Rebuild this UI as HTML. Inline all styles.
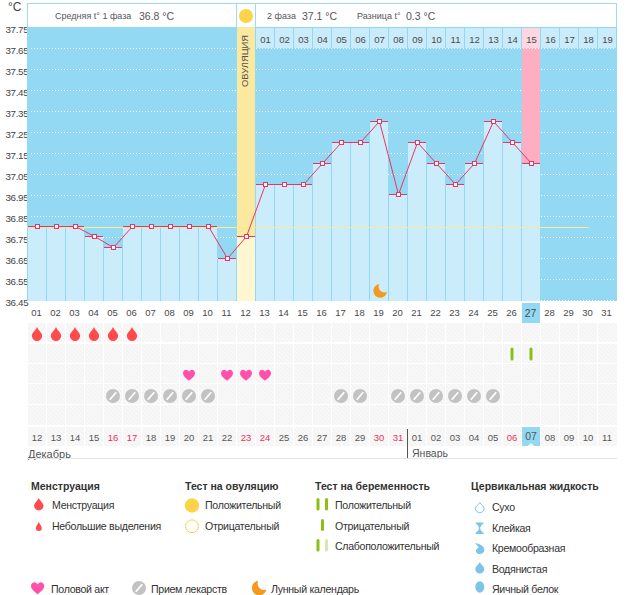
<!DOCTYPE html><html><head><meta charset="utf-8"><style>
*{margin:0;padding:0;box-sizing:border-box}
html,body{width:626px;height:595px;background:#fff;overflow:hidden}
body{position:relative;font-family:"Liberation Sans",sans-serif;color:#444}
.a{position:absolute}
.yl{position:absolute;left:0;width:28.3px;text-align:right;font-size:9.8px;line-height:10px;color:#444;letter-spacing:-0.35px}
.dl{position:absolute;font-size:9.5px;line-height:10px;text-align:center;color:#4a4a4a}
.lg{position:absolute;font-size:10.6px;line-height:12px;color:#333;white-space:nowrap;letter-spacing:-0.3px}
.lh{position:absolute;font-size:10.5px;line-height:12px;font-weight:bold;color:#333;white-space:nowrap}
.ht{position:absolute;white-space:nowrap;color:#555}
</style></head><body>

<div class="a" style="left:8px;top:0.5px;font-size:12px;line-height:12px;color:#444">°C</div>
<div class="yl" style="top:24.5px">37.75</div>
<div class="yl" style="top:45.5px">37.65</div>
<div class="yl" style="top:66.5px">37.55</div>
<div class="yl" style="top:87.5px">37.45</div>
<div class="yl" style="top:108.5px">37.35</div>
<div class="yl" style="top:129.5px">37.25</div>
<div class="yl" style="top:150.5px">37.15</div>
<div class="yl" style="top:171.5px">37.05</div>
<div class="yl" style="top:192.5px">36.95</div>
<div class="yl" style="top:213.5px">36.85</div>
<div class="yl" style="top:234.5px">36.75</div>
<div class="yl" style="top:255.5px">36.65</div>
<div class="yl" style="top:276.5px">36.55</div>
<div class="yl" style="top:297.5px">36.45</div>
<svg class="a" style="left:0;top:0" width="626" height="595" shape-rendering="crispEdges">
<rect x="27" y="27" width="590" height="274" fill="#93d9f3"/>
<line x1="31" y1="48.5" x2="615" y2="48.5" stroke="#fff" stroke-width="1" stroke-dasharray="1 2"/>
<line x1="31" y1="69.5" x2="615" y2="69.5" stroke="#fff" stroke-width="1" stroke-dasharray="1 2"/>
<line x1="31" y1="90.5" x2="615" y2="90.5" stroke="#fff" stroke-width="1" stroke-dasharray="1 2"/>
<line x1="31" y1="111.5" x2="615" y2="111.5" stroke="#fff" stroke-width="1" stroke-dasharray="1 2"/>
<line x1="31" y1="132.5" x2="615" y2="132.5" stroke="#fff" stroke-width="1" stroke-dasharray="1 2"/>
<line x1="31" y1="153.5" x2="615" y2="153.5" stroke="#fff" stroke-width="1" stroke-dasharray="1 2"/>
<line x1="31" y1="174.5" x2="615" y2="174.5" stroke="#fff" stroke-width="1" stroke-dasharray="1 2"/>
<line x1="31" y1="195.5" x2="615" y2="195.5" stroke="#fff" stroke-width="1" stroke-dasharray="1 2"/>
<line x1="31" y1="216.5" x2="615" y2="216.5" stroke="#fff" stroke-width="1" stroke-dasharray="1 2"/>
<line x1="31" y1="237.5" x2="615" y2="237.5" stroke="#fff" stroke-width="1" stroke-dasharray="1 2"/>
<line x1="31" y1="258.5" x2="615" y2="258.5" stroke="#fff" stroke-width="1" stroke-dasharray="1 2"/>
<line x1="31" y1="279.5" x2="615" y2="279.5" stroke="#fff" stroke-width="1" stroke-dasharray="1 2"/>
<line x1="31" y1="300.5" x2="615" y2="300.5" stroke="#fff" stroke-width="1" stroke-dasharray="1 2"/>
<rect x="237" y="27" width="18" height="274" fill="#fce9a0"/>
<rect x="522" y="48" width="18" height="253" fill="#fdaec3"/>
<rect x="28" y="227" width="18" height="74" fill="#cbecfa"/>
<rect x="27" y="227" width="1" height="74" fill="#93d8f2"/>
<rect x="47" y="227" width="18" height="74" fill="#cbecfa"/>
<rect x="46" y="227" width="1" height="74" fill="#93d8f2"/>
<rect x="66" y="227" width="18" height="74" fill="#cbecfa"/>
<rect x="65" y="227" width="1" height="74" fill="#93d8f2"/>
<rect x="85" y="237" width="18" height="64" fill="#cbecfa"/>
<rect x="84" y="237" width="1" height="64" fill="#93d8f2"/>
<rect x="104" y="248" width="18" height="53" fill="#cbecfa"/>
<rect x="103" y="248" width="1" height="53" fill="#93d8f2"/>
<rect x="123" y="227" width="18" height="74" fill="#cbecfa"/>
<rect x="122" y="227" width="1" height="74" fill="#93d8f2"/>
<rect x="142" y="227" width="18" height="74" fill="#cbecfa"/>
<rect x="141" y="227" width="1" height="74" fill="#93d8f2"/>
<rect x="161" y="227" width="18" height="74" fill="#cbecfa"/>
<rect x="160" y="227" width="1" height="74" fill="#93d8f2"/>
<rect x="180" y="227" width="18" height="74" fill="#cbecfa"/>
<rect x="179" y="227" width="1" height="74" fill="#93d8f2"/>
<rect x="199" y="227" width="18" height="74" fill="#cbecfa"/>
<rect x="198" y="227" width="1" height="74" fill="#93d8f2"/>
<rect x="218" y="259" width="18" height="42" fill="#cbecfa"/>
<rect x="217" y="259" width="1" height="42" fill="#93d8f2"/>
<rect x="237" y="237" width="18" height="64" fill="#fff6d2"/>
<rect x="256" y="185" width="18" height="116" fill="#cbecfa"/>
<rect x="275" y="185" width="18" height="116" fill="#cbecfa"/>
<rect x="274" y="185" width="1" height="116" fill="#93d8f2"/>
<rect x="294" y="185" width="18" height="116" fill="#cbecfa"/>
<rect x="293" y="185" width="1" height="116" fill="#93d8f2"/>
<rect x="313" y="164" width="18" height="137" fill="#cbecfa"/>
<rect x="312" y="164" width="1" height="137" fill="#93d8f2"/>
<rect x="332" y="143" width="18" height="158" fill="#cbecfa"/>
<rect x="331" y="143" width="1" height="158" fill="#93d8f2"/>
<rect x="351" y="143" width="18" height="158" fill="#cbecfa"/>
<rect x="350" y="143" width="1" height="158" fill="#93d8f2"/>
<rect x="370" y="122" width="18" height="179" fill="#cbecfa"/>
<rect x="369" y="122" width="1" height="179" fill="#93d8f2"/>
<rect x="389" y="195" width="18" height="106" fill="#cbecfa"/>
<rect x="388" y="195" width="1" height="106" fill="#93d8f2"/>
<rect x="408" y="143" width="18" height="158" fill="#cbecfa"/>
<rect x="407" y="143" width="1" height="158" fill="#93d8f2"/>
<rect x="427" y="164" width="18" height="137" fill="#cbecfa"/>
<rect x="426" y="164" width="1" height="137" fill="#93d8f2"/>
<rect x="446" y="185" width="18" height="116" fill="#cbecfa"/>
<rect x="445" y="185" width="1" height="116" fill="#93d8f2"/>
<rect x="465" y="164" width="18" height="137" fill="#cbecfa"/>
<rect x="464" y="164" width="1" height="137" fill="#93d8f2"/>
<rect x="484" y="122" width="18" height="179" fill="#cbecfa"/>
<rect x="483" y="122" width="1" height="179" fill="#93d8f2"/>
<rect x="503" y="143" width="18" height="158" fill="#cbecfa"/>
<rect x="502" y="143" width="1" height="158" fill="#93d8f2"/>
<rect x="522" y="164" width="18" height="137" fill="#cbecfa"/>
<rect x="521" y="164" width="1" height="137" fill="#93d8f2"/>
<rect x="255" y="27" width="362" height="21" fill="#93d8f2"/>
<rect x="256" y="28" width="18" height="20" fill="#c9ebfa"/>
<rect x="275" y="28" width="18" height="20" fill="#c9ebfa"/>
<rect x="294" y="28" width="18" height="20" fill="#c9ebfa"/>
<rect x="313" y="28" width="18" height="20" fill="#c9ebfa"/>
<rect x="332" y="28" width="18" height="20" fill="#c9ebfa"/>
<rect x="351" y="28" width="18" height="20" fill="#c9ebfa"/>
<rect x="370" y="28" width="18" height="20" fill="#c9ebfa"/>
<rect x="389" y="28" width="18" height="20" fill="#c9ebfa"/>
<rect x="408" y="28" width="18" height="20" fill="#c9ebfa"/>
<rect x="427" y="28" width="18" height="20" fill="#c9ebfa"/>
<rect x="446" y="28" width="18" height="20" fill="#c9ebfa"/>
<rect x="465" y="28" width="18" height="20" fill="#c9ebfa"/>
<rect x="484" y="28" width="18" height="20" fill="#c9ebfa"/>
<rect x="503" y="28" width="18" height="20" fill="#c9ebfa"/>
<rect x="522" y="28" width="18" height="20" fill="#fcd6e0"/>
<rect x="541" y="28" width="18" height="20" fill="#c9ebfa"/>
<rect x="560" y="28" width="18" height="20" fill="#c9ebfa"/>
<rect x="579" y="28" width="18" height="20" fill="#c9ebfa"/>
<rect x="598" y="28" width="18" height="20" fill="#c9ebfa"/>
<line x1="256" y1="48.5" x2="615" y2="48.5" stroke="#fff" stroke-width="1" stroke-dasharray="1 2" stroke-dashoffset="0"/>
<rect x="27" y="227" width="562" height="1" fill="#f6ec98"/>
<rect x="28" y="226" width="18" height="1" fill="#ea3462"/>
<rect x="47" y="226" width="18" height="1" fill="#ea3462"/>
<rect x="66" y="226" width="18" height="1" fill="#ea3462"/>
<rect x="85" y="236" width="18" height="1" fill="#ea3462"/>
<rect x="104" y="247" width="18" height="1" fill="#ea3462"/>
<rect x="123" y="226" width="18" height="1" fill="#ea3462"/>
<rect x="142" y="226" width="18" height="1" fill="#ea3462"/>
<rect x="161" y="226" width="18" height="1" fill="#ea3462"/>
<rect x="180" y="226" width="18" height="1" fill="#ea3462"/>
<rect x="199" y="226" width="18" height="1" fill="#ea3462"/>
<rect x="218" y="258" width="18" height="1" fill="#ea3462"/>
<rect x="237" y="236" width="18" height="1" fill="#ea3462"/>
<rect x="256" y="184" width="18" height="1" fill="#ea3462"/>
<rect x="275" y="184" width="18" height="1" fill="#ea3462"/>
<rect x="294" y="184" width="18" height="1" fill="#ea3462"/>
<rect x="313" y="163" width="18" height="1" fill="#ea3462"/>
<rect x="332" y="142" width="18" height="1" fill="#ea3462"/>
<rect x="351" y="142" width="18" height="1" fill="#ea3462"/>
<rect x="370" y="121" width="18" height="1" fill="#ea3462"/>
<rect x="389" y="194" width="18" height="1" fill="#ea3462"/>
<rect x="408" y="142" width="18" height="1" fill="#ea3462"/>
<rect x="427" y="163" width="18" height="1" fill="#ea3462"/>
<rect x="446" y="184" width="18" height="1" fill="#ea3462"/>
<rect x="465" y="163" width="18" height="1" fill="#ea3462"/>
<rect x="484" y="121" width="18" height="1" fill="#ea3462"/>
<rect x="503" y="142" width="18" height="1" fill="#ea3462"/>
<rect x="522" y="163" width="18" height="1" fill="#ea3462"/>
</svg>
<svg class="a" style="left:0;top:0" width="626" height="595">
<polyline fill="none" stroke="#ea3462" stroke-width="1" points="37.5,226.5 56.5,226.5 75.5,226.5 94.5,236.5 113.5,247.5 132.5,226.5 151.5,226.5 170.5,226.5 189.5,226.5 208.5,226.5 227.5,258.5 246.5,236.5 265.5,184.5 284.5,184.5 303.5,184.5 322.5,163.5 341.5,142.5 360.5,142.5 379.5,121.5 398.5,194.5 417.5,142.5 436.5,163.5 455.5,184.5 474.5,163.5 493.5,121.5 512.5,142.5 531.5,163.5"/>
<rect x="35.5" y="224.5" width="4" height="4" fill="#fff" stroke="#ea3462" stroke-width="1"/>
<rect x="54.5" y="224.5" width="4" height="4" fill="#fff" stroke="#ea3462" stroke-width="1"/>
<rect x="73.5" y="224.5" width="4" height="4" fill="#fff" stroke="#ea3462" stroke-width="1"/>
<rect x="92.5" y="234.5" width="4" height="4" fill="#fff" stroke="#ea3462" stroke-width="1"/>
<rect x="111.5" y="245.5" width="4" height="4" fill="#fff" stroke="#ea3462" stroke-width="1"/>
<rect x="130.5" y="224.5" width="4" height="4" fill="#fff" stroke="#ea3462" stroke-width="1"/>
<rect x="149.5" y="224.5" width="4" height="4" fill="#fff" stroke="#ea3462" stroke-width="1"/>
<rect x="168.5" y="224.5" width="4" height="4" fill="#fff" stroke="#ea3462" stroke-width="1"/>
<rect x="187.5" y="224.5" width="4" height="4" fill="#fff" stroke="#ea3462" stroke-width="1"/>
<rect x="206.5" y="224.5" width="4" height="4" fill="#fff" stroke="#ea3462" stroke-width="1"/>
<rect x="225.5" y="256.5" width="4" height="4" fill="#fff" stroke="#ea3462" stroke-width="1"/>
<rect x="244.5" y="234.5" width="4" height="4" fill="#fff" stroke="#ea3462" stroke-width="1"/>
<rect x="263.5" y="182.5" width="4" height="4" fill="#fff" stroke="#ea3462" stroke-width="1"/>
<rect x="282.5" y="182.5" width="4" height="4" fill="#fff" stroke="#ea3462" stroke-width="1"/>
<rect x="301.5" y="182.5" width="4" height="4" fill="#fff" stroke="#ea3462" stroke-width="1"/>
<rect x="320.5" y="161.5" width="4" height="4" fill="#fff" stroke="#ea3462" stroke-width="1"/>
<rect x="339.5" y="140.5" width="4" height="4" fill="#fff" stroke="#ea3462" stroke-width="1"/>
<rect x="358.5" y="140.5" width="4" height="4" fill="#fff" stroke="#ea3462" stroke-width="1"/>
<rect x="377.5" y="119.5" width="4" height="4" fill="#fff" stroke="#ea3462" stroke-width="1"/>
<rect x="396.5" y="192.5" width="4" height="4" fill="#fff" stroke="#ea3462" stroke-width="1"/>
<rect x="415.5" y="140.5" width="4" height="4" fill="#fff" stroke="#ea3462" stroke-width="1"/>
<rect x="434.5" y="161.5" width="4" height="4" fill="#fff" stroke="#ea3462" stroke-width="1"/>
<rect x="453.5" y="182.5" width="4" height="4" fill="#fff" stroke="#ea3462" stroke-width="1"/>
<rect x="472.5" y="161.5" width="4" height="4" fill="#fff" stroke="#ea3462" stroke-width="1"/>
<rect x="491.5" y="119.5" width="4" height="4" fill="#fff" stroke="#ea3462" stroke-width="1"/>
<rect x="510.5" y="140.5" width="4" height="4" fill="#fff" stroke="#ea3462" stroke-width="1"/>
<rect x="529.5" y="161.5" width="4" height="4" fill="#fff" stroke="#ea3462" stroke-width="1"/>
<defs><clipPath id="mc"><rect x="370" y="270" width="18" height="31"/></clipPath></defs><g clip-path="url(#mc)"><circle cx="380.2" cy="290.8" r="6.9" fill="#f39a1e"/><circle cx="384.6" cy="286.6" r="6" fill="#cbecfa"/></g>
</svg>
<div class="a" style="left:27px;top:3px;width:590px;height:24px;border:1px solid #9edcf3;border-bottom:none;background:#fff"></div>
<div class="a" style="left:236px;top:3px;width:1px;height:24px;background:#9edcf3"></div>
<div class="a" style="left:255px;top:3px;width:1px;height:24px;background:#9edcf3"></div>
<div class="a" style="left:239px;top:9px;width:14px;height:14px;border-radius:50%;background:#fdd34a"></div>
<div class="ht" style="left:55px;top:11px;font-size:9px;line-height:10px">Средняя t° 1 фаза</div>
<div class="ht" style="left:139px;top:11px;font-size:10.5px;line-height:11px">36.8 °C</div>
<div class="ht" style="left:267px;top:11px;font-size:9px;line-height:10px">2 фаза</div>
<div class="ht" style="left:302px;top:11px;font-size:10.5px;line-height:11px">37.1 °C</div>
<div class="ht" style="left:357px;top:11px;font-size:9px;line-height:10px">Разница t°</div>
<div class="ht" style="left:406px;top:11px;font-size:10.5px;line-height:11px">0.3 °C</div>
<div class="a" style="left:245px;top:61px;width:0;height:0"><div style="position:absolute;left:0;top:0;font-size:9.8px;line-height:10px;white-space:nowrap;color:#555;transform:translate(-50%,-50%) rotate(-90deg) scaleX(0.955)">ОВУЛЯЦИЯ</div></div>
<div class="dl" style="left:256px;top:35px;width:19px">01</div>
<div class="dl" style="left:275px;top:35px;width:19px">02</div>
<div class="dl" style="left:294px;top:35px;width:19px">03</div>
<div class="dl" style="left:313px;top:35px;width:19px">04</div>
<div class="dl" style="left:332px;top:35px;width:19px">05</div>
<div class="dl" style="left:351px;top:35px;width:19px">06</div>
<div class="dl" style="left:370px;top:35px;width:19px">07</div>
<div class="dl" style="left:389px;top:35px;width:19px">08</div>
<div class="dl" style="left:408px;top:35px;width:19px">09</div>
<div class="dl" style="left:427px;top:35px;width:19px">10</div>
<div class="dl" style="left:446px;top:35px;width:19px">11</div>
<div class="dl" style="left:465px;top:35px;width:19px">12</div>
<div class="dl" style="left:484px;top:35px;width:19px">13</div>
<div class="dl" style="left:503px;top:35px;width:19px">14</div>
<div class="dl" style="left:522px;top:35px;width:19px">15</div>
<div class="dl" style="left:541px;top:35px;width:19px">16</div>
<div class="dl" style="left:560px;top:35px;width:19px">17</div>
<div class="dl" style="left:579px;top:35px;width:19px">18</div>
<div class="dl" style="left:598px;top:35px;width:19px">19</div>
<div class="a" style="left:522px;top:303px;width:18px;height:20px;background:#93d9f3"></div>
<div class="dl" style="left:27px;top:308px;width:19px">01</div>
<div class="dl" style="left:46px;top:308px;width:19px">02</div>
<div class="dl" style="left:65px;top:308px;width:19px">03</div>
<div class="dl" style="left:84px;top:308px;width:19px">04</div>
<div class="dl" style="left:103px;top:308px;width:19px">05</div>
<div class="dl" style="left:122px;top:308px;width:19px">06</div>
<div class="dl" style="left:141px;top:308px;width:19px">07</div>
<div class="dl" style="left:160px;top:308px;width:19px">08</div>
<div class="dl" style="left:179px;top:308px;width:19px">09</div>
<div class="dl" style="left:198px;top:308px;width:19px">10</div>
<div class="dl" style="left:217px;top:308px;width:19px">11</div>
<div class="dl" style="left:236px;top:308px;width:19px">12</div>
<div class="dl" style="left:255px;top:308px;width:19px">13</div>
<div class="dl" style="left:274px;top:308px;width:19px">14</div>
<div class="dl" style="left:293px;top:308px;width:19px">15</div>
<div class="dl" style="left:312px;top:308px;width:19px">16</div>
<div class="dl" style="left:331px;top:308px;width:19px">17</div>
<div class="dl" style="left:350px;top:308px;width:19px">18</div>
<div class="dl" style="left:369px;top:308px;width:19px">19</div>
<div class="dl" style="left:388px;top:308px;width:19px">20</div>
<div class="dl" style="left:407px;top:308px;width:19px">21</div>
<div class="dl" style="left:426px;top:308px;width:19px">22</div>
<div class="dl" style="left:445px;top:308px;width:19px">23</div>
<div class="dl" style="left:464px;top:308px;width:19px">24</div>
<div class="dl" style="left:483px;top:308px;width:19px">25</div>
<div class="dl" style="left:502px;top:308px;width:19px">26</div>
<div class="dl" style="left:521px;font-size:10.5px;top:307.5px;width:19px">27</div>
<div class="dl" style="left:540px;top:308px;width:19px">28</div>
<div class="dl" style="left:559px;top:308px;width:19px">29</div>
<div class="dl" style="left:578px;top:308px;width:19px">30</div>
<div class="dl" style="left:597px;top:308px;width:19px">31</div>
<svg class="a" style="left:0;top:0" width="626" height="595">
<defs><pattern id="hp" width="3" height="3" patternUnits="userSpaceOnUse" patternTransform="rotate(-45)"><rect width="3" height="3" fill="#fafafa"/><rect width="1.5" height="3" fill="#f3f3f3"/></pattern></defs>
<rect x="28" y="323" width="18" height="19" fill="url(#hp)"/>
<rect x="47" y="323" width="18" height="19" fill="url(#hp)"/>
<rect x="66" y="323" width="18" height="19" fill="url(#hp)"/>
<rect x="85" y="323" width="18" height="19" fill="url(#hp)"/>
<rect x="104" y="323" width="18" height="19" fill="url(#hp)"/>
<rect x="123" y="323" width="18" height="19" fill="url(#hp)"/>
<rect x="142" y="323" width="18" height="19" fill="url(#hp)"/>
<rect x="161" y="323" width="18" height="19" fill="url(#hp)"/>
<rect x="180" y="323" width="18" height="19" fill="url(#hp)"/>
<rect x="199" y="323" width="18" height="19" fill="url(#hp)"/>
<rect x="218" y="323" width="18" height="19" fill="url(#hp)"/>
<rect x="237" y="323" width="18" height="19" fill="url(#hp)"/>
<rect x="256" y="323" width="18" height="19" fill="url(#hp)"/>
<rect x="275" y="323" width="18" height="19" fill="url(#hp)"/>
<rect x="294" y="323" width="18" height="19" fill="url(#hp)"/>
<rect x="313" y="323" width="18" height="19" fill="url(#hp)"/>
<rect x="332" y="323" width="18" height="19" fill="url(#hp)"/>
<rect x="351" y="323" width="18" height="19" fill="url(#hp)"/>
<rect x="370" y="323" width="18" height="19" fill="url(#hp)"/>
<rect x="389" y="323" width="18" height="19" fill="url(#hp)"/>
<rect x="408" y="323" width="18" height="19" fill="url(#hp)"/>
<rect x="427" y="323" width="18" height="19" fill="url(#hp)"/>
<rect x="446" y="323" width="18" height="19" fill="url(#hp)"/>
<rect x="465" y="323" width="18" height="19" fill="url(#hp)"/>
<rect x="484" y="323" width="18" height="19" fill="url(#hp)"/>
<rect x="503" y="323" width="18" height="19" fill="url(#hp)"/>
<rect x="522" y="323" width="18" height="19" fill="url(#hp)"/>
<rect x="541" y="323" width="18" height="19" fill="url(#hp)"/>
<rect x="560" y="323" width="18" height="19" fill="url(#hp)"/>
<rect x="579" y="323" width="18" height="19" fill="url(#hp)"/>
<rect x="598" y="323" width="19" height="19" fill="url(#hp)"/>
<rect x="28" y="344" width="18" height="19" fill="url(#hp)"/>
<rect x="47" y="344" width="18" height="19" fill="url(#hp)"/>
<rect x="66" y="344" width="18" height="19" fill="url(#hp)"/>
<rect x="85" y="344" width="18" height="19" fill="url(#hp)"/>
<rect x="104" y="344" width="18" height="19" fill="url(#hp)"/>
<rect x="123" y="344" width="18" height="19" fill="url(#hp)"/>
<rect x="142" y="344" width="18" height="19" fill="url(#hp)"/>
<rect x="161" y="344" width="18" height="19" fill="url(#hp)"/>
<rect x="180" y="344" width="18" height="19" fill="url(#hp)"/>
<rect x="199" y="344" width="18" height="19" fill="url(#hp)"/>
<rect x="218" y="344" width="18" height="19" fill="url(#hp)"/>
<rect x="237" y="344" width="18" height="19" fill="url(#hp)"/>
<rect x="256" y="344" width="18" height="19" fill="url(#hp)"/>
<rect x="275" y="344" width="18" height="19" fill="url(#hp)"/>
<rect x="294" y="344" width="18" height="19" fill="url(#hp)"/>
<rect x="313" y="344" width="18" height="19" fill="url(#hp)"/>
<rect x="332" y="344" width="18" height="19" fill="url(#hp)"/>
<rect x="351" y="344" width="18" height="19" fill="url(#hp)"/>
<rect x="370" y="344" width="18" height="19" fill="url(#hp)"/>
<rect x="389" y="344" width="18" height="19" fill="url(#hp)"/>
<rect x="408" y="344" width="18" height="19" fill="url(#hp)"/>
<rect x="427" y="344" width="18" height="19" fill="url(#hp)"/>
<rect x="446" y="344" width="18" height="19" fill="url(#hp)"/>
<rect x="465" y="344" width="18" height="19" fill="url(#hp)"/>
<rect x="484" y="344" width="18" height="19" fill="url(#hp)"/>
<rect x="503" y="344" width="18" height="19" fill="url(#hp)"/>
<rect x="522" y="344" width="18" height="19" fill="url(#hp)"/>
<rect x="541" y="344" width="18" height="19" fill="url(#hp)"/>
<rect x="560" y="344" width="18" height="19" fill="url(#hp)"/>
<rect x="579" y="344" width="18" height="19" fill="url(#hp)"/>
<rect x="598" y="344" width="19" height="19" fill="url(#hp)"/>
<rect x="28" y="364" width="18" height="19" fill="url(#hp)"/>
<rect x="47" y="364" width="18" height="19" fill="url(#hp)"/>
<rect x="66" y="364" width="18" height="19" fill="url(#hp)"/>
<rect x="85" y="364" width="18" height="19" fill="url(#hp)"/>
<rect x="104" y="364" width="18" height="19" fill="url(#hp)"/>
<rect x="123" y="364" width="18" height="19" fill="url(#hp)"/>
<rect x="142" y="364" width="18" height="19" fill="url(#hp)"/>
<rect x="161" y="364" width="18" height="19" fill="url(#hp)"/>
<rect x="180" y="364" width="18" height="19" fill="url(#hp)"/>
<rect x="199" y="364" width="18" height="19" fill="url(#hp)"/>
<rect x="218" y="364" width="18" height="19" fill="url(#hp)"/>
<rect x="237" y="364" width="18" height="19" fill="url(#hp)"/>
<rect x="256" y="364" width="18" height="19" fill="url(#hp)"/>
<rect x="275" y="364" width="18" height="19" fill="url(#hp)"/>
<rect x="294" y="364" width="18" height="19" fill="url(#hp)"/>
<rect x="313" y="364" width="18" height="19" fill="url(#hp)"/>
<rect x="332" y="364" width="18" height="19" fill="url(#hp)"/>
<rect x="351" y="364" width="18" height="19" fill="url(#hp)"/>
<rect x="370" y="364" width="18" height="19" fill="url(#hp)"/>
<rect x="389" y="364" width="18" height="19" fill="url(#hp)"/>
<rect x="408" y="364" width="18" height="19" fill="url(#hp)"/>
<rect x="427" y="364" width="18" height="19" fill="url(#hp)"/>
<rect x="446" y="364" width="18" height="19" fill="url(#hp)"/>
<rect x="465" y="364" width="18" height="19" fill="url(#hp)"/>
<rect x="484" y="364" width="18" height="19" fill="url(#hp)"/>
<rect x="503" y="364" width="18" height="19" fill="url(#hp)"/>
<rect x="522" y="364" width="18" height="19" fill="url(#hp)"/>
<rect x="541" y="364" width="18" height="19" fill="url(#hp)"/>
<rect x="560" y="364" width="18" height="19" fill="url(#hp)"/>
<rect x="579" y="364" width="18" height="19" fill="url(#hp)"/>
<rect x="598" y="364" width="19" height="19" fill="url(#hp)"/>
<rect x="28" y="384" width="18" height="20" fill="url(#hp)"/>
<rect x="47" y="384" width="18" height="20" fill="url(#hp)"/>
<rect x="66" y="384" width="18" height="20" fill="url(#hp)"/>
<rect x="85" y="384" width="18" height="20" fill="url(#hp)"/>
<rect x="104" y="384" width="18" height="20" fill="url(#hp)"/>
<rect x="123" y="384" width="18" height="20" fill="url(#hp)"/>
<rect x="142" y="384" width="18" height="20" fill="url(#hp)"/>
<rect x="161" y="384" width="18" height="20" fill="url(#hp)"/>
<rect x="180" y="384" width="18" height="20" fill="url(#hp)"/>
<rect x="199" y="384" width="18" height="20" fill="url(#hp)"/>
<rect x="218" y="384" width="18" height="20" fill="url(#hp)"/>
<rect x="237" y="384" width="18" height="20" fill="url(#hp)"/>
<rect x="256" y="384" width="18" height="20" fill="url(#hp)"/>
<rect x="275" y="384" width="18" height="20" fill="url(#hp)"/>
<rect x="294" y="384" width="18" height="20" fill="url(#hp)"/>
<rect x="313" y="384" width="18" height="20" fill="url(#hp)"/>
<rect x="332" y="384" width="18" height="20" fill="url(#hp)"/>
<rect x="351" y="384" width="18" height="20" fill="url(#hp)"/>
<rect x="370" y="384" width="18" height="20" fill="url(#hp)"/>
<rect x="389" y="384" width="18" height="20" fill="url(#hp)"/>
<rect x="408" y="384" width="18" height="20" fill="url(#hp)"/>
<rect x="427" y="384" width="18" height="20" fill="url(#hp)"/>
<rect x="446" y="384" width="18" height="20" fill="url(#hp)"/>
<rect x="465" y="384" width="18" height="20" fill="url(#hp)"/>
<rect x="484" y="384" width="18" height="20" fill="url(#hp)"/>
<rect x="503" y="384" width="18" height="20" fill="url(#hp)"/>
<rect x="522" y="384" width="18" height="20" fill="url(#hp)"/>
<rect x="541" y="384" width="18" height="20" fill="url(#hp)"/>
<rect x="560" y="384" width="18" height="20" fill="url(#hp)"/>
<rect x="579" y="384" width="18" height="20" fill="url(#hp)"/>
<rect x="598" y="384" width="19" height="20" fill="url(#hp)"/>
<rect x="28" y="405" width="18" height="20" fill="url(#hp)"/>
<rect x="47" y="405" width="18" height="20" fill="url(#hp)"/>
<rect x="66" y="405" width="18" height="20" fill="url(#hp)"/>
<rect x="85" y="405" width="18" height="20" fill="url(#hp)"/>
<rect x="104" y="405" width="18" height="20" fill="url(#hp)"/>
<rect x="123" y="405" width="18" height="20" fill="url(#hp)"/>
<rect x="142" y="405" width="18" height="20" fill="url(#hp)"/>
<rect x="161" y="405" width="18" height="20" fill="url(#hp)"/>
<rect x="180" y="405" width="18" height="20" fill="url(#hp)"/>
<rect x="199" y="405" width="18" height="20" fill="url(#hp)"/>
<rect x="218" y="405" width="18" height="20" fill="url(#hp)"/>
<rect x="237" y="405" width="18" height="20" fill="url(#hp)"/>
<rect x="256" y="405" width="18" height="20" fill="url(#hp)"/>
<rect x="275" y="405" width="18" height="20" fill="url(#hp)"/>
<rect x="294" y="405" width="18" height="20" fill="url(#hp)"/>
<rect x="313" y="405" width="18" height="20" fill="url(#hp)"/>
<rect x="332" y="405" width="18" height="20" fill="url(#hp)"/>
<rect x="351" y="405" width="18" height="20" fill="url(#hp)"/>
<rect x="370" y="405" width="18" height="20" fill="url(#hp)"/>
<rect x="389" y="405" width="18" height="20" fill="url(#hp)"/>
<rect x="408" y="405" width="18" height="20" fill="url(#hp)"/>
<rect x="427" y="405" width="18" height="20" fill="url(#hp)"/>
<rect x="446" y="405" width="18" height="20" fill="url(#hp)"/>
<rect x="465" y="405" width="18" height="20" fill="url(#hp)"/>
<rect x="484" y="405" width="18" height="20" fill="url(#hp)"/>
<rect x="503" y="405" width="18" height="20" fill="url(#hp)"/>
<rect x="522" y="405" width="18" height="20" fill="url(#hp)"/>
<rect x="541" y="405" width="18" height="20" fill="url(#hp)"/>
<rect x="560" y="405" width="18" height="20" fill="url(#hp)"/>
<rect x="579" y="405" width="18" height="20" fill="url(#hp)"/>
<rect x="598" y="405" width="19" height="20" fill="url(#hp)"/>
<rect x="28" y="427" width="18" height="19" fill="url(#hp)"/>
<rect x="47" y="427" width="18" height="19" fill="url(#hp)"/>
<rect x="66" y="427" width="18" height="19" fill="url(#hp)"/>
<rect x="85" y="427" width="18" height="19" fill="url(#hp)"/>
<rect x="104" y="427" width="18" height="19" fill="url(#hp)"/>
<rect x="123" y="427" width="18" height="19" fill="url(#hp)"/>
<rect x="142" y="427" width="18" height="19" fill="url(#hp)"/>
<rect x="161" y="427" width="18" height="19" fill="url(#hp)"/>
<rect x="180" y="427" width="18" height="19" fill="url(#hp)"/>
<rect x="199" y="427" width="18" height="19" fill="url(#hp)"/>
<rect x="218" y="427" width="18" height="19" fill="url(#hp)"/>
<rect x="237" y="427" width="18" height="19" fill="url(#hp)"/>
<rect x="256" y="427" width="18" height="19" fill="url(#hp)"/>
<rect x="275" y="427" width="18" height="19" fill="url(#hp)"/>
<rect x="294" y="427" width="18" height="19" fill="url(#hp)"/>
<rect x="313" y="427" width="18" height="19" fill="url(#hp)"/>
<rect x="332" y="427" width="18" height="19" fill="url(#hp)"/>
<rect x="351" y="427" width="18" height="19" fill="url(#hp)"/>
<rect x="370" y="427" width="18" height="19" fill="url(#hp)"/>
<rect x="389" y="427" width="18" height="19" fill="url(#hp)"/>
<rect x="408" y="427" width="18" height="19" fill="url(#hp)"/>
<rect x="427" y="427" width="18" height="19" fill="url(#hp)"/>
<rect x="446" y="427" width="18" height="19" fill="url(#hp)"/>
<rect x="465" y="427" width="18" height="19" fill="url(#hp)"/>
<rect x="484" y="427" width="18" height="19" fill="url(#hp)"/>
<rect x="503" y="427" width="18" height="19" fill="url(#hp)"/>
<rect x="522" y="427" width="18" height="19" fill="url(#hp)"/>
<rect x="541" y="427" width="18" height="19" fill="url(#hp)"/>
<rect x="560" y="427" width="18" height="19" fill="url(#hp)"/>
<rect x="579" y="427" width="18" height="19" fill="url(#hp)"/>
<rect x="598" y="427" width="19" height="19" fill="url(#hp)"/>
<path d="M37.00 327.00 C38.80 330.92 42.15 333.02 42.15 335.85 A5.15 5.15 0 0 1 31.85 335.85 C31.85 333.02 35.20 330.92 37.00 327.00 Z" fill="#ff4b4b" />
<path d="M56.00 327.00 C57.80 330.92 61.15 333.02 61.15 335.85 A5.15 5.15 0 0 1 50.85 335.85 C50.85 333.02 54.20 330.92 56.00 327.00 Z" fill="#ff4b4b" />
<path d="M75.00 327.00 C76.80 330.92 80.15 333.02 80.15 335.85 A5.15 5.15 0 0 1 69.85 335.85 C69.85 333.02 73.20 330.92 75.00 327.00 Z" fill="#ff4b4b" />
<path d="M94.00 327.00 C95.80 330.92 99.15 333.02 99.15 335.85 A5.15 5.15 0 0 1 88.85 335.85 C88.85 333.02 92.20 330.92 94.00 327.00 Z" fill="#ff4b4b" />
<path d="M113.00 327.00 C114.80 330.92 118.15 333.02 118.15 335.85 A5.15 5.15 0 0 1 107.85 335.85 C107.85 333.02 111.20 330.92 113.00 327.00 Z" fill="#ff4b4b" />
<path d="M132.00 327.00 C133.80 330.92 137.15 333.02 137.15 335.85 A5.15 5.15 0 0 1 126.85 335.85 C126.85 333.02 130.20 330.92 132.00 327.00 Z" fill="#ff4b4b" />
<rect x="510.5" y="347.5" width="3" height="13" rx="1.5" fill="#8cbf14"/>
<rect x="529.5" y="347.5" width="3" height="13" rx="1.5" fill="#8cbf14"/>
<path transform="translate(189 375.3) scale(1)" d="M0 5.5 C-3 3 -6 1 -6 -2 C-6 -4.5 -4 -5.5 -3 -5.5 C-1.5 -5.5 -0.5 -4.5 0 -3.5 C0.5 -4.5 1.5 -5.5 3 -5.5 C4 -5.5 6 -4.5 6 -2 C6 1 3 3 0 5.5 Z" fill="#ff50aa"/>
<path transform="translate(227 375.3) scale(1)" d="M0 5.5 C-3 3 -6 1 -6 -2 C-6 -4.5 -4 -5.5 -3 -5.5 C-1.5 -5.5 -0.5 -4.5 0 -3.5 C0.5 -4.5 1.5 -5.5 3 -5.5 C4 -5.5 6 -4.5 6 -2 C6 1 3 3 0 5.5 Z" fill="#ff50aa"/>
<path transform="translate(246 375.3) scale(1)" d="M0 5.5 C-3 3 -6 1 -6 -2 C-6 -4.5 -4 -5.5 -3 -5.5 C-1.5 -5.5 -0.5 -4.5 0 -3.5 C0.5 -4.5 1.5 -5.5 3 -5.5 C4 -5.5 6 -4.5 6 -2 C6 1 3 3 0 5.5 Z" fill="#ff50aa"/>
<path transform="translate(265 375.3) scale(1)" d="M0 5.5 C-3 3 -6 1 -6 -2 C-6 -4.5 -4 -5.5 -3 -5.5 C-1.5 -5.5 -0.5 -4.5 0 -3.5 C0.5 -4.5 1.5 -5.5 3 -5.5 C4 -5.5 6 -4.5 6 -2 C6 1 3 3 0 5.5 Z" fill="#ff50aa"/>
<circle cx="113" cy="396" r="7" fill="#c2c2c2"/><line x1="110.2" y1="399.3" x2="115.8" y2="392.7" stroke="#fff" stroke-width="1.7" stroke-linecap="round"/>
<circle cx="132" cy="396" r="7" fill="#c2c2c2"/><line x1="129.2" y1="399.3" x2="134.8" y2="392.7" stroke="#fff" stroke-width="1.7" stroke-linecap="round"/>
<circle cx="151" cy="396" r="7" fill="#c2c2c2"/><line x1="148.2" y1="399.3" x2="153.8" y2="392.7" stroke="#fff" stroke-width="1.7" stroke-linecap="round"/>
<circle cx="170" cy="396" r="7" fill="#c2c2c2"/><line x1="167.2" y1="399.3" x2="172.8" y2="392.7" stroke="#fff" stroke-width="1.7" stroke-linecap="round"/>
<circle cx="189" cy="396" r="7" fill="#c2c2c2"/><line x1="186.2" y1="399.3" x2="191.8" y2="392.7" stroke="#fff" stroke-width="1.7" stroke-linecap="round"/>
<circle cx="208" cy="396" r="7" fill="#c2c2c2"/><line x1="205.2" y1="399.3" x2="210.8" y2="392.7" stroke="#fff" stroke-width="1.7" stroke-linecap="round"/>
<circle cx="341" cy="396" r="7" fill="#c2c2c2"/><line x1="338.2" y1="399.3" x2="343.8" y2="392.7" stroke="#fff" stroke-width="1.7" stroke-linecap="round"/>
<circle cx="360" cy="396" r="7" fill="#c2c2c2"/><line x1="357.2" y1="399.3" x2="362.8" y2="392.7" stroke="#fff" stroke-width="1.7" stroke-linecap="round"/>
<circle cx="398" cy="396" r="7" fill="#c2c2c2"/><line x1="395.2" y1="399.3" x2="400.8" y2="392.7" stroke="#fff" stroke-width="1.7" stroke-linecap="round"/>
<circle cx="417" cy="396" r="7" fill="#c2c2c2"/><line x1="414.2" y1="399.3" x2="419.8" y2="392.7" stroke="#fff" stroke-width="1.7" stroke-linecap="round"/>
<circle cx="436" cy="396" r="7" fill="#c2c2c2"/><line x1="433.2" y1="399.3" x2="438.8" y2="392.7" stroke="#fff" stroke-width="1.7" stroke-linecap="round"/>
<circle cx="455" cy="396" r="7" fill="#c2c2c2"/><line x1="452.2" y1="399.3" x2="457.8" y2="392.7" stroke="#fff" stroke-width="1.7" stroke-linecap="round"/>
<circle cx="474" cy="396" r="7" fill="#c2c2c2"/><line x1="471.2" y1="399.3" x2="476.8" y2="392.7" stroke="#fff" stroke-width="1.7" stroke-linecap="round"/>
<circle cx="493" cy="396" r="7" fill="#c2c2c2"/><line x1="490.2" y1="399.3" x2="495.8" y2="392.7" stroke="#fff" stroke-width="1.7" stroke-linecap="round"/>
</svg>
<div class="a" style="left:522px;top:427px;width:18px;height:19px;background:#93d9f3"></div>
<div class="a" style="left:528px;top:443px;width:0;height:0;border-left:3px solid transparent;border-right:3px solid transparent;border-bottom:3px solid #fff"></div>
<div class="dl" style="left:27.5px;top:433px;width:19px;color:#555">12</div>
<div class="dl" style="left:46.5px;top:433px;width:19px;color:#555">13</div>
<div class="dl" style="left:65.5px;top:433px;width:19px;color:#555">14</div>
<div class="dl" style="left:84.5px;top:433px;width:19px;color:#555">15</div>
<div class="dl" style="left:103.5px;top:433px;width:19px;color:#e8335a">16</div>
<div class="dl" style="left:122.5px;top:433px;width:19px;color:#e8335a">17</div>
<div class="dl" style="left:141.5px;top:433px;width:19px;color:#555">18</div>
<div class="dl" style="left:160.5px;top:433px;width:19px;color:#555">19</div>
<div class="dl" style="left:179.5px;top:433px;width:19px;color:#555">20</div>
<div class="dl" style="left:198.5px;top:433px;width:19px;color:#555">21</div>
<div class="dl" style="left:217.5px;top:433px;width:19px;color:#555">22</div>
<div class="dl" style="left:236.5px;top:433px;width:19px;color:#e8335a">23</div>
<div class="dl" style="left:255.5px;top:433px;width:19px;color:#e8335a">24</div>
<div class="dl" style="left:274.5px;top:433px;width:19px;color:#555">25</div>
<div class="dl" style="left:293.5px;top:433px;width:19px;color:#555">26</div>
<div class="dl" style="left:312.5px;top:433px;width:19px;color:#555">27</div>
<div class="dl" style="left:331.5px;top:433px;width:19px;color:#555">28</div>
<div class="dl" style="left:350.5px;top:433px;width:19px;color:#555">29</div>
<div class="dl" style="left:369.5px;top:433px;width:19px;color:#e8335a">30</div>
<div class="dl" style="left:388.5px;top:433px;width:19px;color:#e8335a">31</div>
<div class="dl" style="left:407.5px;top:433px;width:19px;color:#555">01</div>
<div class="dl" style="left:426.5px;top:433px;width:19px;color:#555">02</div>
<div class="dl" style="left:445.5px;top:433px;width:19px;color:#555">03</div>
<div class="dl" style="left:464.5px;top:433px;width:19px;color:#555">04</div>
<div class="dl" style="left:483.5px;top:433px;width:19px;color:#555">05</div>
<div class="dl" style="left:502.5px;top:433px;width:19px;color:#e8335a">06</div>
<div class="dl" style="left:521.5px;font-size:10.5px;top:431px;width:19px;color:#555">07</div>
<div class="dl" style="left:540.5px;top:433px;width:19px;color:#555">08</div>
<div class="dl" style="left:559.5px;top:433px;width:19px;color:#555">09</div>
<div class="dl" style="left:578.5px;top:433px;width:19px;color:#555">10</div>
<div class="dl" style="left:597.5px;top:433px;width:19px;color:#555">11</div>
<div class="a" style="left:28px;top:447.5px;font-size:11px;line-height:12px;color:#555">Декабрь</div>
<div class="a" style="left:412px;top:447px;font-size:10.5px;line-height:12px;color:#555">Январь</div>
<div class="a" style="left:407px;top:429px;width:1px;height:29px;background:#555"></div>
<div class="a" style="left:27px;top:458px;width:590px;height:1px;background:#e6e6e6"></div>
<div class="lh" style="left:31px;top:480px">Менструация</div>
<div class="lh" style="left:185px;top:480px">Тест на овуляцию</div>
<div class="lh" style="left:315px;top:480px">Тест на беременность</div>
<div class="lh" style="left:471px;top:480px">Цервикальная жидкость</div>
<svg class="a" style="left:0;top:0" width="626" height="595">
<path d="M38.80 498.00 C40.46 501.50 43.55 503.14 43.55 505.75 A4.75 4.75 0 0 1 34.05 505.75 C34.05 503.14 37.14 501.50 38.80 498.00 Z" fill="#ff4b4b" />
<path d="M38.80 522.00 C39.85 524.52 41.80 526.35 41.80 528.00 A3.00 3.00 0 0 1 35.80 528.00 C35.80 526.35 37.75 524.52 38.80 522.00 Z" fill="#ff4b4b" />
<circle cx="192" cy="505.5" r="7.2" fill="#fdd34a"/>
<circle cx="192" cy="526.3" r="6.4" fill="#fff" stroke="#fdd34a" stroke-width="1"/>
<rect x="316.5" y="498" width="3" height="12.5" rx="1.5" fill="#8cbf14"/><rect x="325" y="498" width="3" height="12.5" rx="1.5" fill="#8cbf14"/>
<rect x="321" y="519" width="3" height="12" rx="1.5" fill="#8cbf14"/>
<rect x="316.5" y="539" width="3" height="12.5" rx="1.5" fill="#8cbf14"/><rect x="325" y="539" width="3" height="12.5" rx="1.5" fill="#d6e9ad"/>
<path d="M479.80 502.50 C481.31 505.36 484.10 506.04 484.10 508.40 A4.30 4.30 0 0 1 475.50 508.40 C475.50 506.04 478.30 505.36 479.80 502.50 Z" fill="#fff" stroke="#7cc4ea" stroke-width="1"/>
<path d="M475.6 522.6 H483.6 L483.4 523.6 C481.5 525 480.3 526.5 480.2 528.3 C480.3 530 481.5 531.6 483.6 533 V534 H475.6 V533 C477.7 531.6 478.9 530 479 528.3 C478.9 526.5 477.7 525 475.8 523.6 Z" fill="#7cc4ea"/>
<path d="M474.7 543.2 C478 543.4 481.5 544.6 483.4 547 C484.8 549 484.6 552 482.5 553.3 C480.5 554.6 477.5 554.2 476.3 552.2 C475.5 550.6 476.5 548.6 478.7 547.6 C477.8 546 476.5 544.5 474.7 543.2 Z" fill="#7cc4ea"/>
<path d="M479.80 562.00 C481.38 565.22 484.30 566.52 484.30 569.00 A4.50 4.50 0 0 1 475.30 569.00 C475.30 566.52 478.23 565.22 479.80 562.00 Z" fill="#7cc4ea" />
<ellipse cx="479.8" cy="587" rx="4.5" ry="5.8" fill="#7cc4ea"/>
<path transform="translate(37.6 588.3) scale(1.1)" d="M0 5.5 C-3 3 -6 1 -6 -2 C-6 -4.5 -4 -5.5 -3 -5.5 C-1.5 -5.5 -0.5 -4.5 0 -3.5 C0.5 -4.5 1.5 -5.5 3 -5.5 C4 -5.5 6 -4.5 6 -2 C6 1 3 3 0 5.5 Z" fill="#ff50aa"/>
<circle cx="139" cy="588" r="7" fill="#c2c2c2"/><line x1="136.2" y1="591.3" x2="141.8" y2="584.7" stroke="#fff" stroke-width="1.7" stroke-linecap="round"/>
<circle cx="259.2" cy="588" r="7.3" fill="#f39a1e"/><circle cx="263.8" cy="583.6" r="6.3" fill="#fff"/>
</svg>
<div class="lg" style="left:52px;top:499px">Менструация</div>
<div class="lg" style="left:52px;top:520px">Небольшие выделения</div>
<div class="lg" style="left:205px;top:499px">Положительный</div>
<div class="lg" style="left:205px;top:520px">Отрицательный</div>
<div class="lg" style="left:335px;top:499px">Положительный</div>
<div class="lg" style="left:335px;top:520px">Отрицательный</div>
<div class="lg" style="left:335px;top:540px">Слабоположительный</div>
<div class="lg" style="left:492px;top:501px">Сухо</div>
<div class="lg" style="left:492px;top:522px">Клейкая</div>
<div class="lg" style="left:492px;top:542px">Кремообразная</div>
<div class="lg" style="left:492px;top:563px">Водянистая</div>
<div class="lg" style="left:492px;top:583px">Яичный белок</div>
<div class="lg" style="left:51px;top:583px">Половой акт</div>
<div class="lg" style="left:151px;top:583px">Прием лекарств</div>
<div class="lg" style="left:271px;top:583px">Лунный календарь</div>
</body></html>
